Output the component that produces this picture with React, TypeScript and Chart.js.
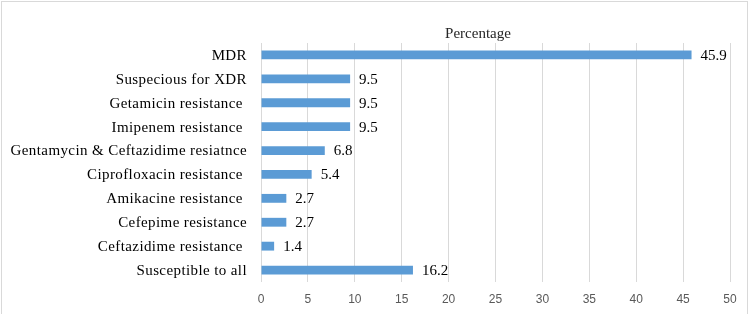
import React, { useEffect, useRef } from "react";
import { Chart, registerables } from "chart.js";

Chart.register(...registerables);

const categories = [
  "MDR",
  "Suspecious for XDR",
  "Getamicin resistance ",
  "Imipenem resistance ",
  "Gentamycin & Ceftazidime resiatnce",
  "Ciprofloxacin resistance ",
  "Amikacine resistance ",
  "Cefepime resistance",
  "Ceftazidime resistance ",
  "Susceptible to all",
];
const percentages = [45.9, 9.5, 9.5, 9.5, 6.8, 5.4, 2.7, 2.7, 1.4, 16.2];
const seriesName = "Percentage";
const xMin = 0;
const xMax = 50;
const xStep = 5;

const SERIF = "'Liberation Serif', 'Times New Roman', serif";
const SANS = "'Liberation Sans', Arial, sans-serif";

export default function App() {
  const ref = useRef<HTMLCanvasElement | null>(null);

  useEffect(() => {
    document.body.style.margin = "0";
    const canvas = ref.current;
    if (!canvas) return;

    const frame = {
      id: "frame",
      beforeDraw(chart: any) {
        const ctx = chart.ctx;
        ctx.save();
        ctx.fillStyle = "#ffffff";
        ctx.fillRect(0, 0, chart.width, chart.height);
        ctx.strokeStyle = "#d9d9d9";
        ctx.lineWidth = 1;
        ctx.strokeRect(1.5, 1.5, 746, chart.height + 5);
        ctx.restore();
      },
    };

    const titlePlugin = {
      id: "ownTitle",
      afterDraw(chart: any) {
        const ctx = chart.ctx;
        ctx.save();
        ctx.font = `15px ${SERIF}`;
        ctx.fillStyle = "#262626";
        ctx.textAlign = "center";
        ctx.textBaseline = "middle";
        ctx.fillText(seriesName, 478, 34);
        ctx.restore();
      },
    };

    const categoryLabels = {
      id: "categoryLabels",
      afterDraw(chart: any) {
        const ctx = chart.ctx;
        const yScale = chart.scales.y;
        ctx.save();
        ctx.font = `15px ${SERIF}`;
        (ctx as any).letterSpacing = "0.4px";
        ctx.fillStyle = "#000000";
        ctx.textAlign = "right";
        ctx.textBaseline = "middle";
        categories.forEach((c, i) => {
          const y = yScale.getPixelForValue(i);
          ctx.fillText(c, chart.chartArea.left - 14, y + 1);
        });
        ctx.restore();
      },
    };

    const valueLabels = {
      id: "valueLabels",
      afterDatasetsDraw(chart: any) {
        const ctx = chart.ctx;
        const meta = chart.getDatasetMeta(0);
        ctx.save();
        ctx.font = `15px ${SERIF}`;
        ctx.fillStyle = "#000000";
        ctx.textAlign = "left";
        ctx.textBaseline = "middle";
        meta.data.forEach((bar: any, i: number) => {
          ctx.fillText(String(percentages[i]), bar.x + 9, bar.y + 1);
        });
        ctx.restore();
      },
    };

    const chart = new Chart(canvas, {
      type: "bar",
      data: {
        labels: categories,
        datasets: [
          {
            label: seriesName,
            data: percentages,
            backgroundColor: "#5b9bd5",
            borderWidth: 0,
            barPercentage: 0.37,
            categoryPercentage: 1,
          },
        ],
      },
      options: {
        indexAxis: "y",
        responsive: false,
        animation: false,
        maintainAspectRatio: false,
        layout: { padding: { top: 43, right: 26, bottom: 0, left: 0 } },
        plugins: {
          legend: { display: false },
          title: { display: false },
          tooltip: { enabled: false },
        },
        scales: {
          x: {
            min: xMin,
            max: xMax,
            position: "bottom",
            ticks: {
              stepSize: xStep,
              color: "#595959",
              font: { family: SANS, size: 12 },
              padding: 10,
            },
            grid: {
              color: "#d9d9d9",
              drawTicks: false,
              tickLength: 0,
            },
            border: { display: false },
            afterFit(scale: any) {
              scale.height = 32;
            },
          },
          y: {
            ticks: { display: false, autoSkip: false },
            grid: { display: false, drawTicks: false },
            border: { display: false },
            afterFit(scale: any) {
              scale.width = 261;
            },
          },
        },
      } as any,
      plugins: [frame, titlePlugin, categoryLabels, valueLabels],
    });

    return () => chart.destroy();
  }, []);

  return (
    <div style={{ width: 756, height: 314 }}>
      <canvas ref={ref} width={756} height={314} style={{ display: "block" }} />
    </div>
  );
}
